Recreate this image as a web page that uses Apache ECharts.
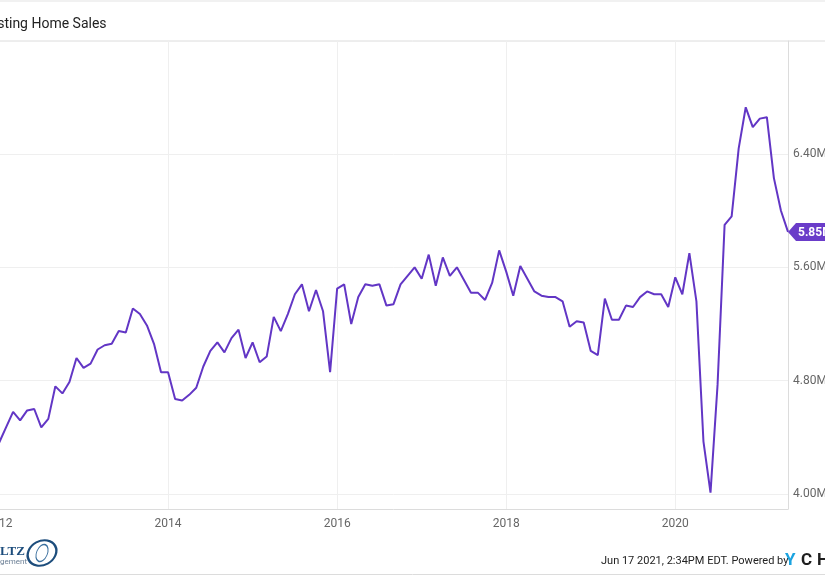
<!DOCTYPE html>
<html>
<head>
<meta charset="utf-8">
<title>US Existing Home Sales</title>
<script src="https://cdn.jsdelivr.net/npm/echarts@6/dist/echarts.min.js"></script>
<style>
  html, body { margin: 0; padding: 0; background: #fff; }
  #chart { width: 825px; height: 575px; }
</style>
</head>
<body>
<div id="chart"></div>
<script>
// monthly, Jan 2012 .. May 2021 (millions, SAAR)
const startYear = 2012
const sales = [
  4.36, 4.47, 4.58, 4.52, 4.59, 4.60, 4.47, 4.53, 4.76, 4.71, 4.79, 4.96,
  4.89, 4.92, 5.02, 5.05, 5.06, 5.15, 5.14, 5.31, 5.27, 5.19, 5.06, 4.86,
  4.86, 4.67, 4.66, 4.70, 4.75, 4.90, 5.01, 5.07, 5.00, 5.10, 5.16, 4.96,
  5.07, 4.93, 4.97, 5.25, 5.15, 5.27, 5.41, 5.48, 5.29, 5.44, 5.29, 4.86,
  5.45, 5.48, 5.20, 5.39, 5.48, 5.47, 5.48, 5.33, 5.34, 5.48, 5.54, 5.60,
  5.52, 5.69, 5.47, 5.67, 5.54, 5.60, 5.51, 5.42, 5.42, 5.37, 5.49, 5.72,
  5.57, 5.40, 5.61, 5.52, 5.43, 5.40, 5.39, 5.39, 5.36, 5.18, 5.22, 5.21,
  5.01, 4.98, 5.38, 5.23, 5.23, 5.33, 5.32, 5.39, 5.43, 5.41, 5.41, 5.32,
  5.53, 5.41, 5.70, 5.36, 4.37, 4.01, 4.77, 5.90, 5.96, 6.44, 6.73, 6.59,
  6.65, 6.66, 6.23, 6.00, 5.85
]
const months = sales.map((_, i) => {
  const y = startYear + Math.floor(i / 12)
  const m = (i % 12) + 1
  return y + '-' + (m < 10 ? '0' + m : m)
})
const yTicks = [4.0, 4.8, 5.6, 6.4]
const lastValue = sales[sales.length - 1]

const lineColor = '#6236c5'
const axisColor = '#dcdcdc'
const gridColor = '#efefef'
const everyTwoYears = (idx) => idx % 24 === 0

const brandFont = 'bold 17px Roboto, sans-serif'

const chart = echarts.init(document.getElementById('chart'))

chart.setOption({
  animation: false,
  textStyle: { fontFamily: 'Roboto, sans-serif' },
  grid: { left: -1, right: 37, top: 41, bottom: 66, containLabel: false, outerBoundsMode: 'none' },
  xAxis: {
    type: 'category',
    data: months,
    boundaryGap: false,
    axisLine: { lineStyle: { color: axisColor } },
    axisTick: { show: false },
    axisLabel: {
      interval: everyTwoYears,
      formatter: (v) => v.slice(0, 4),
      color: '#666',
      fontSize: 12,
      margin: 9
    },
    splitLine: { show: true, interval: everyTwoYears, lineStyle: { color: gridColor } }
  },
  yAxis: {
    type: 'value',
    position: 'right',
    min: 3.894,
    max: 7.198,
    axisLine: { show: true, lineStyle: { color: axisColor } },
    axisTick: { show: false, customValues: yTicks },
    axisLabel: {
      customValues: yTicks,
      formatter: (v) => v.toFixed(2) + 'M',
      color: '#666',
      fontSize: 12,
      margin: 5
    },
    splitLine: { show: true, lineStyle: { color: gridColor } }
  },
  series: [
    {
      name: 'US Existing Home Sales',
      type: 'line',
      data: sales,
      symbol: 'none',
      lineStyle: { color: lineColor, width: 2 },
      markPoint: {
        symbol: 'path://M0,9 L8,0 L60,0 L60,18 L8,18 Z',
        symbolSize: [60, 18],
        symbolOffset: [30, 0],
        symbolKeepAspect: false,
        itemStyle: { color: '#6a3cc9' },
        label: {
          show: true,
          position: 'inside',
          align: 'left',
          offset: [-20, 1],
          formatter: () => lastValue.toFixed(2) + 'M',
          color: '#fff',
          fontWeight: 'bold',
          fontSize: 12
        },
        data: [{ coord: [months.length - 1, lastValue] }]
      }
    }
  ],
  graphic: [
    { type: 'line', silent: true, shape: { x1: 0, y1: 1, x2: 825, y2: 1 }, style: { stroke: '#e3e3e3', lineWidth: 1 } },
    { type: 'line', silent: true, shape: { x1: 0, y1: 41, x2: 825, y2: 41 }, style: { stroke: axisColor, lineWidth: 1 } },
    { type: 'line', silent: true, shape: { x1: 0, y1: 574.5, x2: 825, y2: 574.5 }, style: { stroke: '#dcdcdc', lineWidth: 1 } },
    {
      type: 'text', left: -42, top: 17,
      style: { text: 'US Existing Home Sales', fill: '#222', font: '14px Roboto, sans-serif' }
    },
    // logo (cropped)
    {
      type: 'text', left: 0, top: 545,
      style: { text: 'LTZ', fill: '#1d4d7c', font: 'bold 13px "Liberation Serif", serif' }
    },
    {
      type: 'text', left: 0, top: 558,
      style: { text: 'gement', fill: '#6b7f95', font: '8px Roboto, sans-serif' }
    },
    {
      type: 'circle', shape: { cx: 42, cy: 553, r: 12 },
      scaleX: 1.25, originX: 42, originY: 553, rotation: 0.5,
      style: { fill: 'none', stroke: '#1d4d7c', lineWidth: 2 }
    },
    {
      type: 'circle', shape: { cx: 42, cy: 553, r: 9 },
      scaleX: 0.6, originX: 42, originY: 553, rotation: -0.4,
      style: { fill: 'none', stroke: '#3a6f9e', lineWidth: 1.5 }
    },
    {
      type: 'text', left: 601, top: 556,
      style: { text: 'Jun 17 2021, 2:34PM EDT. Powered by', fill: '#222', font: '11px Roboto, sans-serif' }
    },
    { type: 'text', left: 785, top: 552, style: { text: 'Y', fill: '#1ba3e0', font: brandFont } },
    { type: 'text', left: 801, top: 552, style: { text: 'C', fill: '#1e1e1e', font: brandFont } },
    { type: 'text', left: 817, top: 552, style: { text: 'HARTS', fill: '#1e1e1e', font: brandFont } }
  ]
})
</script>
</body>
</html>
